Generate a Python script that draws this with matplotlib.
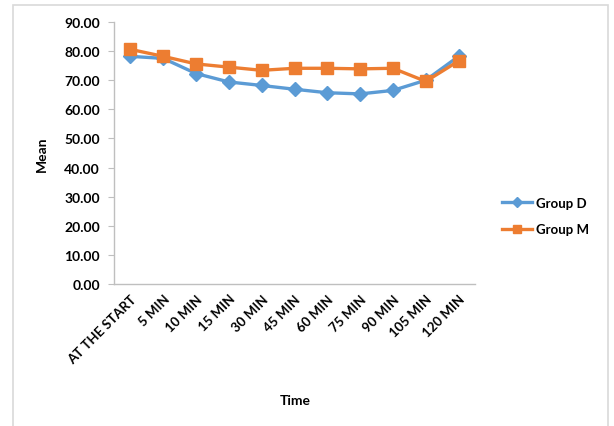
import numpy as np
import matplotlib.pyplot as plt
from matplotlib.patches import Rectangle

plt.rcParams['font.family'] = ['Lato', 'DejaVu Sans']
plt.rcParams['font.weight'] = 'bold'

# Mean values over time for both groups
time_labels = ["AT THE START", "5 MIN", "10 MIN", "15 MIN", "30 MIN", "45 MIN",
               "60 MIN", "75 MIN", "90 MIN", "105 MIN", "120 MIN"]
group_d = [78.2, 77.5, 72.3, 69.4, 68.2, 66.9, 65.7, 65.3, 66.5, 70.0, 78.2]
group_m = [80.6, 78.2, 75.6, 74.5, 73.4, 74.1, 74.1, 73.9, 74.1, 69.6, 76.6]

fig = plt.figure(figsize=(6.14, 4.27), dpi=100)
ax = fig.add_axes([114 / 614, 1 - 285 / 427, (475 - 114) / 614, (285 - 23) / 427])

# light grey frame round the whole chart
fig.patches.append(Rectangle((13 / 614, -0.05), (608 - 13) / 614, 1 - 6 / 427 + 0.05,
                             transform=fig.transFigure, fill=False,
                             edgecolor="#d9d9d9", linewidth=1.2))

x = np.arange(len(time_labels))
ax.plot(x, group_d, color="#5B9BD5", lw=2.4, marker="D", ms=7, label="Group D")
ax.plot(x, group_m, color="#ED7D31", lw=2.4, marker="s", ms=9, label="Group M")

ax.set_xlim(-0.5, len(time_labels) - 0.5)
ax.set_ylim(0, 90)
ax.set_yticks(np.arange(0, 91, 10))
ax.set_yticklabels([f"{v:.2f}" for v in np.arange(0, 91, 10)], fontsize=10, fontweight="bold")
ax.set_xticks(x)
ax.set_xticklabels(time_labels, rotation=45, ha="right", rotation_mode="anchor",
                   fontsize=9.5, fontweight="bold")

for s in ["top", "right"]:
    ax.spines[s].set_visible(False)
for s in ["left", "bottom"]:
    ax.spines[s].set_color("#bfbfbf")
    ax.spines[s].set_linewidth(1.0)
ax.tick_params(axis="y", length=4, color="#bfbfbf", pad=6)
ax.tick_params(axis="x", length=0, pad=6)

ax.set_ylabel("Mean", fontsize=10, fontweight="bold", labelpad=12)
fig.text(295 / 614, 1 - 401 / 427, "Time", ha="center", va="center",
         fontsize=10, fontweight="bold")

fig.legend(loc="center left", bbox_to_anchor=(490 / 614, 1 - 217 / 427), frameon=False,
           fontsize=9.5, handlelength=2.3, labelspacing=1.1, handletextpad=0.25,
           markerscale=0.7)

fig.savefig("out.png", dpi=100)
